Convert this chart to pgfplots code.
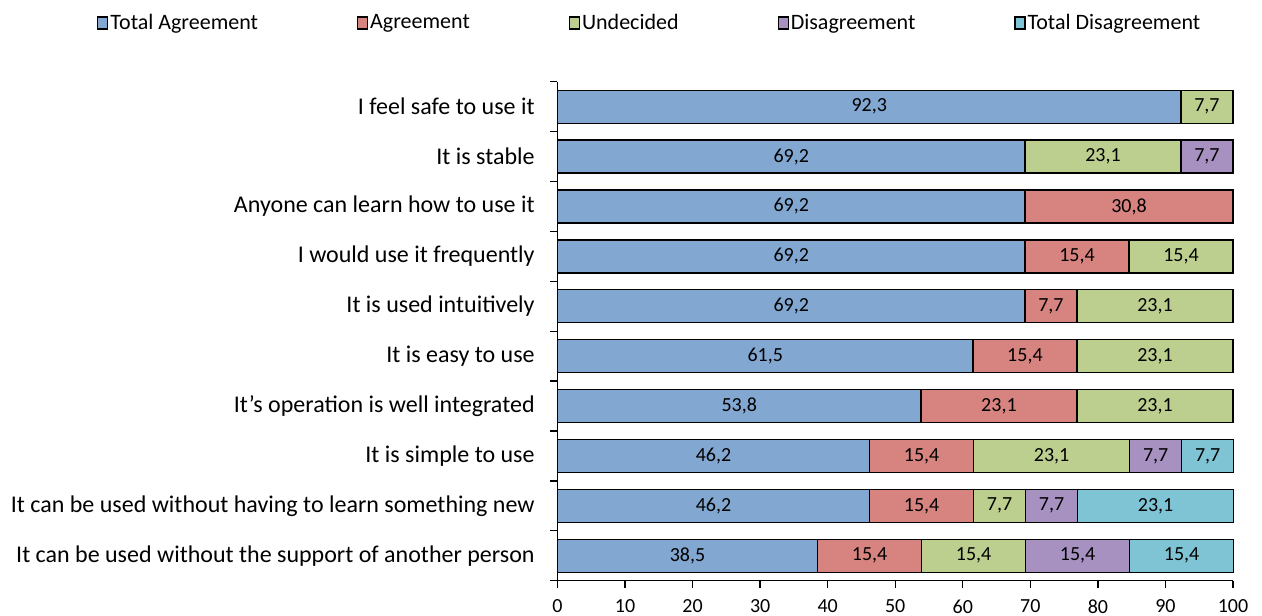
\documentclass[border=0pt]{standalone}
\usepackage{pgfplots}
\pgfplotsset{compat=1.18}
\usepackage{fontspec}
\setmainfont{Carlito}
\definecolor{cTA}{RGB}{130,167,209}
\definecolor{cA}{RGB}{215,131,127}
\definecolor{cU}{RGB}{189,207,143}
\definecolor{cD}{RGB}{166,145,193}
\definecolor{cTD}{RGB}{127,196,212}
\begin{document}
\fontsize{20}{24}\selectfont
\begin{tikzpicture}
\useasboundingbox (-557.5pt,-35.3pt) rectangle (704.5pt,580.7pt);
\begin{axis}[
  at={(0pt,0pt)}, anchor=south west,
  scale only axis, width=675.5pt, height=499pt,
  xbar stacked, bar width=33pt,
  clip=false,
  xmin=0, xmax=100, ymin=-0.5, ymax=9.5,
  axis x line*=bottom, axis y line*=left,
  axis line style={line width=1.3pt, -},
  tick align=outside, major tick length=7pt,
  tick style={line width=1.3pt, black},
  xtick={0,10,...,100},
  xticklabel style={yshift=-5pt},
  ytick={-0.5,0.5,...,9.5},
  yticklabels={},
  extra y ticks={0,1,2,3,4,5,6,7,8,9},
  extra y tick labels={It can be used without the support of another person,
    It can be used without having to learn something new,
    It is simple to use,
    It's operation is well integrated,
    It is easy to use,
    It is used intuitively,
    I would use it frequently,
    Anyone can learn how to use it,
    It is stable,
    I feel safe to use it},
  extra y tick style={major tick length=0pt, tick style={draw=none},
    yticklabel style={font=\fontsize{24}{28}\selectfont, xshift=-16pt}},
  /pgf/number format/assume math mode=true,
  visualization depends on={rawx \as \rawx},
  nodes near coords={\ifdim\rawx pt>0.05pt\pgfmathprintnumber[fixed,fixed zerofill,precision=1,use comma,assume math mode=true]{\rawx}\fi},
  every node near coord/.append style={black},
  legend columns=5,
  legend style={draw=none, at={(-0.6817,1.1176)}, anchor=west, inner xsep=0pt,
    font=\fontsize{22}{26}\selectfont,
    /tikz/every even column/.append style={column sep=97pt}},
  legend image code/.code={\draw[#1, draw=black, line width=1.2pt] (0pt,-6pt) rectangle (10pt,6pt);},
]
\addplot[fill=cTA, draw=black, line width=1.3pt] coordinates {(38.5,0) (46.2,1) (46.2,2) (53.8,3) (61.5,4) (69.2,5) (69.2,6) (69.2,7) (69.2,8) (92.3,9)};
\addplot[fill=cA, draw=black, line width=1.3pt] coordinates {(15.4,0) (15.4,1) (15.4,2) (23.1,3) (15.4,4) (7.7,5) (15.4,6) (30.8,7) (0,8) (0,9)};
\addplot[fill=cU, draw=black, line width=1.3pt] coordinates {(15.4,0) (7.7,1) (23.1,2) (23.1,3) (23.1,4) (23.1,5) (15.4,6) (0,7) (23.1,8) (7.7,9)};
\addplot[fill=cD, draw=black, line width=1.3pt] coordinates {(15.4,0) (7.7,1) (7.7,2) (0,3) (0,4) (0,5) (0,6) (0,7) (7.7,8) (0,9)};
\addplot[fill=cTD, draw=black, line width=1.3pt] coordinates {(15.4,0) (23.1,1) (7.7,2) (0,3) (0,4) (0,5) (0,6) (0,7) (0,8) (0,9)};
\legend{Total Agreement, Agreement, Undecided, Disagreement, Total Disagreement}
\end{axis}
\end{tikzpicture}
\end{document}
